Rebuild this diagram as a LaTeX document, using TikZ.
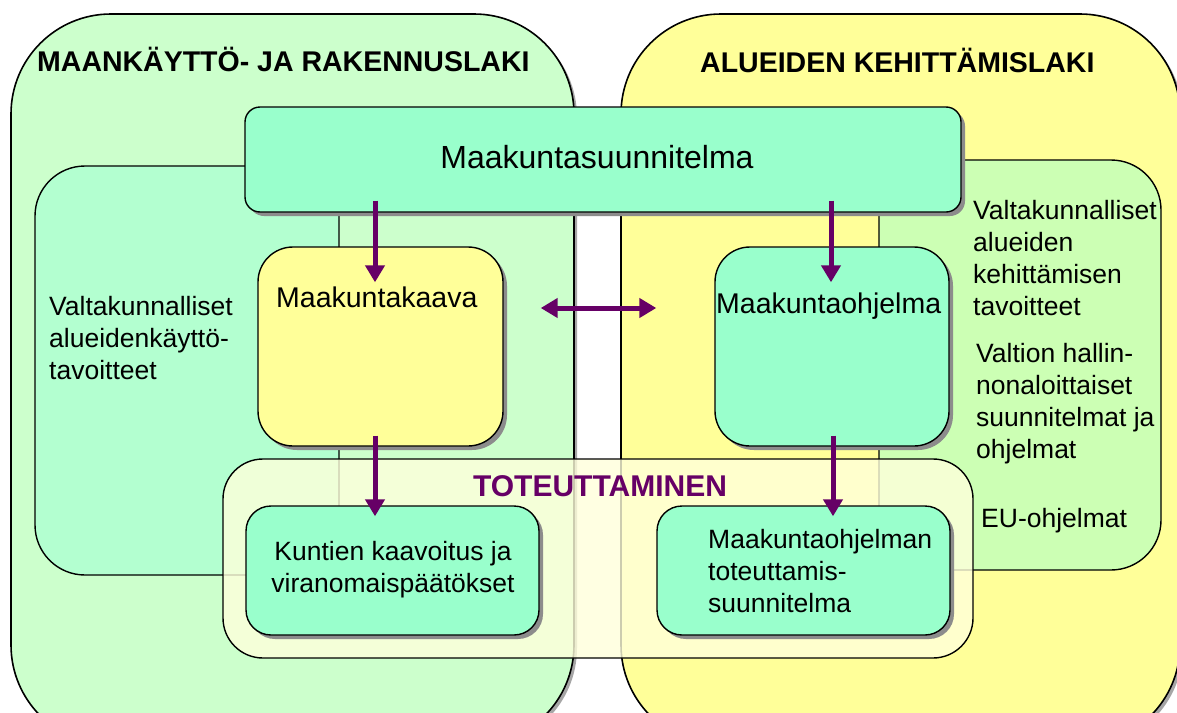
\documentclass[tikz,border=0pt]{standalone}
\usepackage{fontspec}
\setmainfont{Liberation Sans}
\usetikzlibrary{arrows.meta,shadows}
\definecolor{lgreen}{HTML}{CCFFCC}
\definecolor{lyellow}{HTML}{FFFF99}
\definecolor{aqua}{HTML}{99FFCC}
\definecolor{innerL}{HTML}{B3FFD0}
\definecolor{innerR}{HTML}{CCFFB4}
\definecolor{purp}{HTML}{660066}
\tikzset{
  big/.style={draw=black, line width=1.6pt, rounded corners=100pt, inner sep=0pt},
  inner/.style={draw=black, line width=1.4pt, rounded corners=50pt, inner sep=0pt},
  card/.style={draw=black, line width=1.4pt, fill=aqua, inner sep=0pt,
    drop shadow={shadow xshift=4pt, shadow yshift=-4pt, fill=black!45, opacity=1}},
  arr/.style={draw=purp, line width=5pt, -{Triangle[width=19pt,length=17pt]}},
  darr/.style={draw=purp, line width=5pt, {Triangle[width=19pt,length=17pt]}-{Triangle[width=19pt,length=17pt]}},
  body/.style={font=\fontsize{26.5}{32}\selectfont, inner sep=0pt, align=left},
  head/.style={font=\fontsize{28.5}{34}\selectfont\bfseries, inner sep=0pt},
}
\begin{document}
\begin{tikzpicture}[x=1pt,y=-1pt]
\useasboundingbox (0,0) rectangle (1177,712);
\clip (0,0) rectangle (1177,712);
\fill[white] (0,0) rectangle (1177,712);
% big law boxes
\node[big, fill=lgreen, minimum width=563pt, minimum height=731pt,
  drop shadow={shadow xshift=3pt, shadow yshift=-3pt, fill=black!35, opacity=1}] (mrl) at (292.5,379.5) {};
\node[big, fill=lyellow, minimum width=559pt, minimum height=731pt,
  drop shadow={shadow xshift=3pt, shadow yshift=-3pt, fill=black!35, opacity=1}] (akl) at (900.5,379.5) {};
\node[head, anchor=base west] (t1) at (37,71) {MAANKÄYTTÖ- JA RAKENNUSLAKI};
\node[head, anchor=base west] (t2) at (700,72.5) {ALUEIDEN KEHITTÄMISLAKI};
% inner boxes
\node[inner, fill=innerL, minimum width=304pt, minimum height=409pt] (inL) at (187,370.5) {};
\node[inner, fill=innerR, minimum width=282pt, minimum height=410pt] (inR) at (1020,365) {};
\node[body, anchor=base west] (txL) at (49,379) {Valtakunnalliset\\alueidenkäyttö-\\tavoitteet};
\node[body, anchor=base west] (txR1) at (973,315) {Valtakunnalliset\\alueiden\\kehittämisen\\tavoitteet};
\node[body, anchor=base west] (txR2) at (976,458) {Valtion hallin-\\nonaloittaiset\\suunnitelmat ja\\ohjelmat};
\node[body, anchor=base west] (txR3) at (981,527) {EU-ohjelmat};
% main cards
\node[card, rounded corners=15pt, minimum width=716pt, minimum height=105pt] (msu) at (603,159.5) {};
\node[font=\fontsize{32}{38}\selectfont, inner sep=0pt, anchor=base] (msut) at (597,168) {Maakuntasuunnitelma};
\node[card, fill=lyellow, rounded corners=35pt, minimum width=245pt, minimum height=199pt] (kaava) at (380.5,346.5) {};
\node[font=\fontsize{28.5}{34}\selectfont, inner sep=0pt, anchor=base west] (kaavat) at (276,307) {Maakuntakaava};
\node[card, rounded corners=35pt, minimum width=234pt, minimum height=199pt] (ohj) at (832,346.5) {};
\node[font=\fontsize{28.5}{34}\selectfont, inner sep=0pt, anchor=base west] (ohjt) at (716,313) {Maakuntaohjelma};
% implementation box
\node[draw=black, line width=1.4pt, fill=white!65!lyellow, fill opacity=0.8, rounded corners=40pt,
  minimum width=750pt, minimum height=199pt, inner sep=0pt] (tot) at (598,558.5) {};
\node[font=\fontsize{30}{36}\selectfont\bfseries, text=purp, inner sep=0pt, anchor=base] (tott) at (600,496) {TOTEUTTAMINEN};
\node[card, rounded corners=25pt, minimum width=293pt, minimum height=129pt] (kunt) at (392.5,570.5) {};
\node[body, align=center, anchor=base] (kuntt) at (393,592) {Kuntien kaavoitus ja\\viranomaispäätökset};
\node[card, rounded corners=25pt, minimum width=293pt, minimum height=129pt] (mtot) at (803.5,570.5) {};
\node[body, anchor=base west] (mtott) at (708,612) {Maakuntaohjelman\\toteuttamis-\\suunnitelma};
% arrows
\draw[arr] ([xshift=-5.5pt,yshift=12pt]msu.south -| kaava.north) -- ([xshift=-5.5pt,yshift=-36pt]kaava.north);
\draw[arr] ([xshift=-1pt,yshift=12pt]msu.south -| ohj.north) -- ([xshift=-1pt,yshift=-36pt]ohj.north);
\draw[darr] ([xshift=37pt]kaava.east |- 0,308) -- ([xshift=-58pt]ohj.west |- 0,308);
\draw[arr] ([xshift=-5.5pt,yshift=11pt]kaava.south) -- ([xshift=-5.5pt,yshift=-11pt]kaava.south |- kunt.north);
\draw[arr] ([xshift=1pt,yshift=11pt]ohj.south) -- ([xshift=1pt,yshift=-11pt]ohj.south |- mtot.north);
\end{tikzpicture}
\end{document}
